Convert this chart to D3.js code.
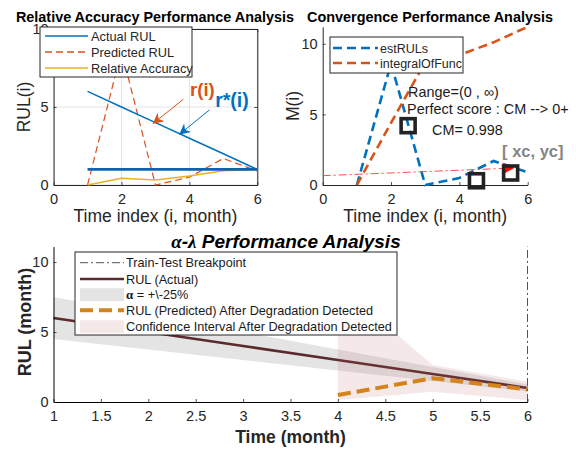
<!DOCTYPE html>
<html>
<head>
<meta charset="utf-8">
<script src="https://cdn.jsdelivr.net/npm/d3@7/dist/d3.min.js"></script>
<style>
  html, body { margin: 0; padding: 0; background: #fff; }
  svg { display: block; font-family: "Liberation Sans", Arial, sans-serif; }
  .tick text { fill: #262626; }
</style>
</head>
<body>
<svg id="fig" width="576" height="449"></svg>
<script>
// ---------- data ----------
const timeIdx      = [1, 2, 3, 4, 5, 6];
const actualRUL    = [6, 5, 4, 3, 2, 1];
const eolLevel     = [1, 1, 1, 1, 1, 1];
const predictedRUL = [0, 8.6, 0, 0.5, 1.7, 0.9];
const relAccuracy  = [0, 0.43, 0.32, 0.58, 0.92, 1.0];

const estRULs        = [0, 8.6, 0, 0.5, 1.7, 0.9];
const integralOfFunc = [0, 4.4, 8.7, 9.2, 10.1, 11.2];
const centroidPts    = [[2.5, 4.2], [4.5, 0.3], [5.5, 0.85]];
const cmArrow        = [[0, 0.66], [5.57, 1.2]];
const cmValue        = 0.998;

const detectTime   = [4, 5, 6];
const predAfterDet = [0.5, 1.7, 0.9];
const ciUpper      = [8.4, 2.64, 1.45];
const ciLower      = [0.15, 0.74, 0.15];
const alphaBound   = 0.25;
const breakpointT  = 6;

const tlTicksX = [0, 2, 4, 6], tlTicksY = [0, 5, 10];
const trTicksX = [0, 2, 4, 6], trTicksY = [0, 5, 10];
const btTicksX = [1, 1.5, 2, 2.5, 3, 3.5, 4, 4.5, 5, 5.5, 6], btTicksY = [0, 5, 10];

// ---------- palette ----------
const C_BLUE = "#0072BD", C_ORANGE = "#D95319", C_YELLOW = "#EDB120";
const C_AXIS = "#262626";
const C_MAROON = "#5B2A2C", C_PRED = "#D4841C";

const svg = d3.select("#fig");
const FONT = '"Liberation Sans", Arial, sans-serif';
const SERIF = '"Liberation Serif", "Times New Roman", serif';
const fmt = d3.format("~g");

function styleAxis(g) {
  g.selectAll("path.domain").attr("stroke", C_AXIS).attr("stroke-width", 1);
  g.selectAll(".tick line").attr("stroke", C_AXIS).attr("stroke-width", 0.8);
  g.selectAll(".tick text").attr("font-family", FONT).attr("font-size", 14.5).attr("fill", C_AXIS);
  return g;
}

function drawLegendBox(x, y, w, h) {
  svg.append("rect").attr("x", x).attr("y", y).attr("width", w).attr("height", h)
    .attr("fill", "#fff").attr("stroke", "#262626").attr("stroke-width", 1);
}

// arrow head marker factory
function marker(id, color, w, h) {
  const m = svg.append("defs").append("marker").attr("id", id)
    .attr("viewBox", "0 0 10 10").attr("refX", 9).attr("refY", 5)
    .attr("markerWidth", w).attr("markerHeight", h).attr("markerUnits", "userSpaceOnUse")
    .attr("orient", "auto");
  m.append("path").attr("d", "M0,0 L10,5 L0,10 L3,5 Z").attr("fill", color);
}
marker("arrOrange", C_ORANGE, 13, 11);
marker("arrBlue", C_BLUE, 13, 11);
marker("arrRed", "#ff0000", 16, 12);

// =====================================================
// Panel 1: Relative Accuracy
// =====================================================
{
  const x = d3.scaleLinear().domain([0, 6]).range([53.6, 257.3]);
  const y = d3.scaleLinear().domain([0, 10]).range([185, 29]);
  const g = svg.append("g");

  // grid
  g.append("g").selectAll("line.gx").data(tlTicksX).join("line")
    .attr("x1", d => x(d)).attr("x2", d => x(d)).attr("y1", y(0)).attr("y2", y(10))
    .attr("stroke", "#dcdcdc").attr("stroke-width", 0.8);
  g.append("g").selectAll("line.gy").data(tlTicksY).join("line")
    .attr("x1", x(0)).attr("x2", x(6)).attr("y1", d => y(d)).attr("y2", d => y(d))
    .attr("stroke", "#dcdcdc").attr("stroke-width", 0.8);

  // axes (box on)
  styleAxis(g.append("g").attr("transform", `translate(0,${y(0)})`)
    .call(d3.axisBottom(x).tickValues(tlTicksX).tickFormat(fmt).tickSizeInner(-3).tickSizeOuter(0).tickPadding(9)));
  styleAxis(g.append("g").attr("transform", `translate(${x(0)},0)`)
    .call(d3.axisLeft(y).tickValues(tlTicksY).tickFormat(fmt).tickSizeInner(-3).tickSizeOuter(0).tickPadding(5)));
  styleAxis(g.append("g").attr("transform", `translate(0,${y(10)})`)
    .call(d3.axisTop(x).tickValues(tlTicksX).tickSizeInner(-3).tickSizeOuter(0).tickFormat("")));
  styleAxis(g.append("g").attr("transform", `translate(${x(6)},0)`)
    .call(d3.axisRight(y).tickValues(tlTicksY).tickSizeInner(-3).tickSizeOuter(0).tickFormat("")));

  const line = vals => d3.line().x((d, i) => x(timeIdx[i])).y(d => y(d))(vals);
  g.append("path").attr("d", line(predictedRUL)).attr("fill", "none")
    .attr("stroke", C_ORANGE).attr("stroke-width", 1.2).attr("stroke-dasharray", "7,4");
  g.append("path").attr("d", line(relAccuracy)).attr("fill", "none")
    .attr("stroke", C_YELLOW).attr("stroke-width", 1.5);
  g.append("path").attr("d", line(actualRUL)).attr("fill", "none")
    .attr("stroke", C_BLUE).attr("stroke-width", 1.5);
  g.append("path").attr("d", line(eolLevel)).attr("fill", "none")
    .attr("stroke", "#0E62B0").attr("stroke-width", 2.6);

  // annotation arrows + labels
  g.append("line").attr("x1", x(3.82)).attr("y1", y(5.49)).attr("x2", x(2.94)).attr("y2", y(3.96))
    .attr("stroke", C_ORANGE).attr("stroke-width", 1).attr("marker-end", "url(#arrOrange)");
  g.append("line").attr("x1", x(4.59)).attr("y1", y(4.81)).attr("x2", x(3.72)).attr("y2", y(3.27))
    .attr("stroke", C_BLUE).attr("stroke-width", 1).attr("marker-end", "url(#arrBlue)");
  g.append("text").attr("x", x(4.02)).attr("y", y(5.71)).text("r(i)")
    .attr("font-family", FONT).attr("font-weight", "bold").attr("font-size", 18.5).attr("fill", C_ORANGE);
  g.append("text").attr("x", x(4.76)).attr("y", y(5.0)).text("r*(i)")
    .attr("font-family", FONT).attr("font-weight", "bold").attr("font-size", 19.5).attr("fill", C_BLUE);

  // labels
  svg.append("text").attr("x", 155).attr("y", 22).attr("text-anchor", "middle")
    .attr("font-family", FONT).attr("font-weight", "bold").attr("font-size", 14.4).attr("fill", "#000")
    .text("Relative Accuracy Performance Analysis");
  svg.append("text").attr("transform", "translate(30,107) rotate(-90)").attr("text-anchor", "middle")
    .attr("font-family", FONT).attr("font-size", 17.5).attr("fill", C_AXIS).text("RUL(i)");
  svg.append("text").attr("x", x(3)).attr("y", 222).attr("text-anchor", "middle")
    .attr("font-family", FONT).attr("font-size", 17.5).attr("fill", C_AXIS).text("Time index (i, month)");

  // legend
  drawLegendBox(40, 27, 152, 50);
  const items = [
    { t: "Actual RUL", c: C_BLUE, d: null },
    { t: "Predicted RUL", c: C_ORANGE, d: "7,4" },
    { t: "Relative Accuracy", c: C_YELLOW, d: null }
  ];
  items.forEach((it, i) => {
    const yy = 36 + i * 16;
    svg.append("line").attr("x1", 45).attr("x2", 88).attr("y1", yy).attr("y2", yy)
      .attr("stroke", it.c).attr("stroke-width", 1.5).attr("stroke-dasharray", it.d);
    svg.append("text").attr("x", 91).attr("y", yy + 4.5).text(it.t)
      .attr("font-family", FONT).attr("font-size", 12.8).attr("fill", C_AXIS);
  });
}

// =====================================================
// Panel 2: Convergence
// =====================================================
{
  const x = d3.scaleLinear().domain([0, 6]).range([322.7, 527.7]);
  const y = d3.scaleLinear().domain([0, 11.2]).range([185, 26.8]);
  const g = svg.append("g");

  styleAxis(g.append("g").attr("transform", `translate(0,${y(0)})`)
    .call(d3.axisBottom(x).tickValues(trTicksX).tickFormat(fmt).tickSizeInner(-3).tickSizeOuter(0).tickPadding(9)));
  styleAxis(g.append("g").attr("transform", `translate(${x(0)},0)`)
    .call(d3.axisLeft(y).tickValues(trTicksY).tickFormat(fmt).tickSizeInner(-3).tickSizeOuter(0).tickPadding(5)));

  const line = vals => d3.line().x((d, i) => x(timeIdx[i])).y(d => y(d))(vals);
  g.append("path").attr("d", line(estRULs)).attr("fill", "none")
    .attr("stroke", C_BLUE).attr("stroke-width", 2.6).attr("stroke-dasharray", "9,5");
  g.append("path").attr("d", line(integralOfFunc)).attr("fill", "none")
    .attr("stroke", C_ORANGE).attr("stroke-width", 2.6).attr("stroke-dasharray", "9,5");

  // centroid arrow
  g.append("line").attr("x1", x(cmArrow[0][0])).attr("y1", y(cmArrow[0][1]))
    .attr("x2", x(cmArrow[1][0])).attr("y2", y(cmArrow[1][1]))
    .attr("stroke", "#ff4d4d").attr("stroke-width", 1).attr("stroke-dasharray", "8,3,2,3")
    .attr("marker-end", "url(#arrRed)");

  // square markers
  g.selectAll("rect.pt").data(centroidPts).join("rect")
    .attr("x", d => x(d[0]) - 7).attr("y", d => y(d[1]) - 7).attr("width", 14).attr("height", 14)
    .attr("fill", "none").attr("stroke", "#222").attr("stroke-width", 3.6);

  const txt = (xv, yv, s, size, extra) => {
    const t = g.append("text").attr("x", x(xv)).attr("y", y(yv)).text(s)
      .attr("font-family", FONT).attr("font-size", size).attr("fill", "#1a1a1a");
    if (extra) extra(t);
    return t;
  };
  txt(2.5, 6.23, "Range=(0 , \u221E)", 14.4);
  txt(2.47, 5.02, "Perfect score : CM --> 0+", 14.4);
  txt(3.2, 3.54, "CM= " + cmValue.toFixed(3), 14.4);
  txt(5.25, 1.98, "[ xc, yc]", 16.5, t => t.attr("font-weight", "bold").attr("fill", "#858585"));

  svg.append("text").attr("x", 430).attr("y", 22).attr("text-anchor", "middle")
    .attr("font-family", FONT).attr("font-weight", "bold").attr("font-size", 14.4).attr("fill", "#000")
    .text("Convergence Performance Analysis");
  svg.append("text").attr("transform", "translate(299,106) rotate(-90)").attr("text-anchor", "middle")
    .attr("font-family", FONT).attr("font-size", 17.5).attr("fill", C_AXIS).text("M(i)");
  svg.append("text").attr("x", x(3)).attr("y", 222).attr("text-anchor", "middle")
    .attr("font-family", FONT).attr("font-size", 17.5).attr("fill", C_AXIS).text("Time index (i, month)");

  drawLegendBox(330, 37, 133, 36);
  [{ t: "estRULs", c: C_BLUE }, { t: "integralOfFunc", c: C_ORANGE }].forEach((it, i) => {
    const yy = 48 + i * 15;
    svg.append("line").attr("x1", 333).attr("x2", 378).attr("y1", yy).attr("y2", yy)
      .attr("stroke", it.c).attr("stroke-width", 2.6).attr("stroke-dasharray", "9,5");
    svg.append("text").attr("x", 380).attr("y", yy + 4.5).text(it.t)
      .attr("font-family", FONT).attr("font-size", 12.5).attr("fill", C_AXIS);
  });
}

// =====================================================
// Panel 3: alpha-lambda
// =====================================================
{
  const x = d3.scaleLinear().domain([1, 6]).range([53.5, 527.5]);
  const y = d3.scaleLinear().domain([0, 11.1]).range([402, 246.6]);
  const g = svg.append("g");

  // alpha band
  const band = d3.area().x((d, i) => x(timeIdx[i]))
    .y0(d => y(d * (1 - alphaBound))).y1(d => y(d * (1 + alphaBound)));
  g.append("path").attr("d", band(actualRUL)).attr("fill", "rgb(128,128,128)").attr("fill-opacity", 0.21);

  // actual RUL
  g.append("path").attr("d", d3.line().x((d, i) => x(timeIdx[i])).y(d => y(d))(actualRUL))
    .attr("fill", "none").attr("stroke", C_MAROON).attr("stroke-width", 2.6);

  // confidence interval after detection
  const ci = d3.area().x((d, i) => x(detectTime[i])).y0((d, i) => y(ciLower[i])).y1((d, i) => y(ciUpper[i]));
  g.append("path").attr("d", ci(detectTime)).attr("fill", "rgb(180,100,100)").attr("fill-opacity", 0.15);

  // predicted after detection
  g.append("path").attr("d", d3.line().x((d, i) => x(detectTime[i])).y(d => y(d))(predAfterDet))
    .attr("fill", "none").attr("stroke", C_PRED).attr("stroke-width", 4).attr("stroke-dasharray", "13,6");

  // breakpoint
  g.append("line").attr("x1", x(breakpointT)).attr("x2", x(breakpointT)).attr("y1", y(0)).attr("y2", y(11.1))
    .attr("stroke", "#555").attr("stroke-width", 1).attr("stroke-dasharray", "8,3,2,3");

  // axes
  const ax = g.append("g").attr("transform", `translate(0,${y(0)})`)
    .call(d3.axisBottom(x).tickValues(btTicksX).tickSizeInner(-3).tickSizeOuter(0).tickPadding(9)
      .tickFormat(fmt));
  styleAxis(ax);
  ax.selectAll("path.domain").attr("stroke", "#000");
  const ay = g.append("g").attr("transform", `translate(${x(1)},0)`)
    .call(d3.axisLeft(y).tickValues(btTicksY).tickFormat(fmt).tickSizeInner(-3).tickSizeOuter(0).tickPadding(5));
  styleAxis(ay);
  ay.selectAll("path.domain").attr("stroke", "#000");

  // title with Greek symbols
  const tt = svg.append("text").attr("x", 286).attr("y", 248).attr("text-anchor", "middle")
    .attr("font-family", FONT).attr("font-weight", "bold").attr("font-style", "italic")
    .attr("font-size", 19).attr("fill", "#000");
  tt.append("tspan").attr("font-family", SERIF).text("\u03B1");
  tt.append("tspan").text("-");
  tt.append("tspan").attr("font-family", SERIF).text("\u03BB");
  tt.append("tspan").text(" Performance Analysis");

  svg.append("text").attr("transform", "translate(31,322) rotate(-90)").attr("text-anchor", "middle")
    .attr("font-family", FONT).attr("font-weight", "bold").attr("font-size", 18).attr("fill", C_AXIS)
    .text("RUL (month)");
  svg.append("text").attr("x", 290.5).attr("y", 443).attr("text-anchor", "middle")
    .attr("font-family", FONT).attr("font-weight", "bold").attr("font-size", 17.5).attr("fill", C_AXIS)
    .text("Time (month)");

  // legend
  drawLegendBox(75, 252, 322, 83);
  const rows = [262.7, 279, 294.7, 310.3, 326.7];
  const lx0 = 80, lx1 = 124, tx = 126;
  const lt = (i, s) => svg.append("text").attr("x", tx).attr("y", rows[i] + 4.5)
    .attr("font-family", FONT).attr("font-size", 12.7).attr("fill", "#1a1a1a").text(s);
  svg.append("line").attr("x1", lx0).attr("x2", lx1).attr("y1", rows[0]).attr("y2", rows[0])
    .attr("stroke", "#555").attr("stroke-width", 1).attr("stroke-dasharray", "8,3,2,3");
  lt(0, "Train-Test Breakpoint");
  svg.append("line").attr("x1", lx0).attr("x2", lx1).attr("y1", rows[1]).attr("y2", rows[1])
    .attr("stroke", C_MAROON).attr("stroke-width", 2.6);
  lt(1, "RUL (Actual)");
  svg.append("rect").attr("x", lx0).attr("y", rows[2] - 6.5).attr("width", lx1 - lx0).attr("height", 13)
    .attr("fill", "rgb(128,128,128)").attr("fill-opacity", 0.21);
  const at = lt(2, "");
  at.append("tspan").attr("font-family", SERIF)
    .attr("font-weight", "bold").attr("font-size", 13).text("\u03B1");
  at.append("tspan").text(" = +\\-" + (alphaBound * 100) + "%");
  svg.append("line").attr("x1", lx0).attr("x2", lx1).attr("y1", rows[3]).attr("y2", rows[3])
    .attr("stroke", C_PRED).attr("stroke-width", 4).attr("stroke-dasharray", "13,6");
  lt(3, "RUL (Predicted) After Degradation Detected");
  svg.append("rect").attr("x", lx0).attr("y", rows[4] - 6.5).attr("width", lx1 - lx0).attr("height", 13)
    .attr("fill", "rgb(180,100,100)").attr("fill-opacity", 0.15);
  lt(4, "Confidence Interval After Degradation Detected");
}
</script>
</body>
</html>
